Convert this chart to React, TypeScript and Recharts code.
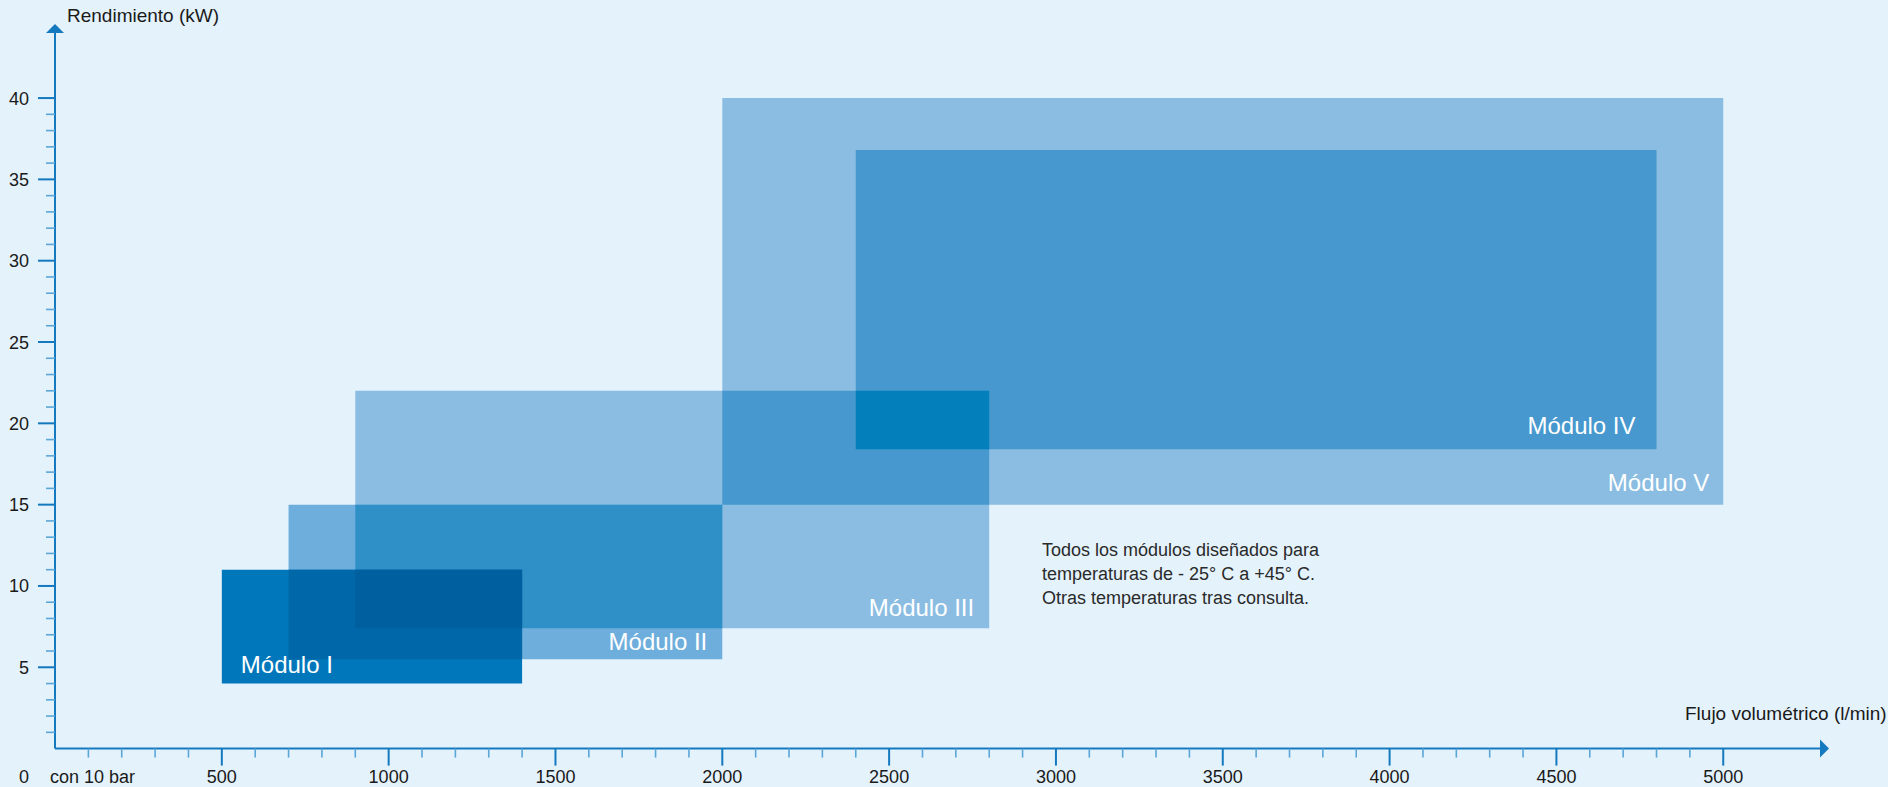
import React from 'react';
import { ComposedChart, XAxis, YAxis, ReferenceArea, ReferenceDot } from 'recharts';

// ---------- data ----------
const moduleNames = ['Módulo I', 'Módulo II', 'Módulo III', 'Módulo IV', 'Módulo V'];
const flowMin = [500, 700, 900, 2400, 2000];
const flowMax = [1400, 2000, 2800, 4800, 5000];
const powerMin = [4, 5.5, 7.4, 18.4, 15];
const powerMax = [11, 15, 22, 36.8, 40];

const xMajorTicks = [500, 1000, 1500, 2000, 2500, 3000, 3500, 4000, 4500, 5000];
const yMajorTicks = [5, 10, 15, 20, 25, 30, 35, 40];
const xTitle = 'Flujo volumétrico (l/min)';
const yTitle = 'Rendimiento (kW)';
const originLabel = '0';
const pressureNote = 'con 10 bar';
const noteLines = [
  'Todos los módulos diseñados para',
  'temperaturas de - 25° C a +45° C.',
  'Otras temperaturas tras consulta.',
];
const noteAnchor = { x: 2958, y: 11.85 };

const xDomain: [number, number] = [0, 5290];
const yDomain: [number, number] = [0, 44];

// minor ticks every 100 l/min and every 1 kW
const xTicks = [0, ...Array.from({ length: 50 }, (_, i) => (i + 1) * 100)];
const yTicks = Array.from({ length: 40 }, (_, i) => i + 1);

// ---------- styles ----------
const BG = '#e4f2fc';
const AXIS = '#1479be';
const MINOR = '#5aa6d8';
const TEXT = '#1a1a1a';
const FONT = '"Liberation Sans", Arial, Helvetica, sans-serif';
const TICK_FS = 18;

// overlap layers (members refer to module indices), painted in order
const layers = [
  { members: [4], fill: '#8bbde2' },
  { members: [2], fill: '#8bbde2' },
  { members: [2, 4], fill: '#4698ce' },
  { members: [3], fill: '#4698ce' },
  { members: [2, 3], fill: '#0380bb' },
  { members: [1], fill: '#6eaedc' },
  { members: [1, 2], fill: '#2f90c8' },
  { members: [0], fill: '#0077bb' },
  { members: [0, 1], fill: '#0068a8' },
  { members: [0, 1, 2], fill: '#005f9f' },
];

const labelPlacement = [
  { anchor: 'start', dx: 19, dy: 10.5 },
  { anchor: 'end', dx: 15, dy: 9 },
  { anchor: 'end', dx: 15, dy: 12 },
  { anchor: 'end', dx: 21, dy: 15 },
  { anchor: 'end', dx: 14, dy: 14 },
];

function intersect(members: number[]) {
  return {
    x1: Math.max(...members.map((m) => flowMin[m])),
    x2: Math.min(...members.map((m) => flowMax[m])),
    y1: Math.max(...members.map((m) => powerMin[m])),
    y2: Math.min(...members.map((m) => powerMax[m])),
  };
}

const XTick = (props: any) => {
  const { x, y, payload } = props;
  const v = payload.value;
  if (v === 0) {
    return (
      <g>
        <text x={x - 31} y={y + 34} textAnchor="middle" fill={TEXT} fontSize={TICK_FS} fontFamily={FONT}>
          {originLabel}
        </text>
        <text x={x - 5} y={y + 34} textAnchor="start" fill={TEXT} fontSize={TICK_FS} fontFamily={FONT}>
          {pressureNote}
        </text>
      </g>
    );
  }
  const major = xMajorTicks.includes(v);
  return (
    <g>
      <line x1={x} x2={x} y1={y} y2={y + (major ? 17 : 9)} stroke={major ? AXIS : MINOR} strokeWidth={major ? 2 : 1.6} />
      {major && (
        <text x={x} y={y + 34} textAnchor="middle" fill={TEXT} fontSize={TICK_FS} fontFamily={FONT}>
          {v}
        </text>
      )}
    </g>
  );
};

const YTick = (props: any) => {
  const { x, y, payload } = props;
  const v = payload.value;
  const major = yMajorTicks.includes(v);
  return (
    <g>
      <line x1={x - (major ? 17 : 9)} x2={x} y1={y} y2={y} stroke={major ? AXIS : MINOR} strokeWidth={major ? 2 : 1.6} />
      {major && (
        <text x={x - 26} y={y + 6.5} textAnchor="end" fill={TEXT} fontSize={TICK_FS} fontFamily={FONT}>
          {v}
        </text>
      )}
    </g>
  );
};

export default function App() {
  return (
    <div style={{ position: 'absolute', left: 0, top: 0, width: 1888, height: 787, background: BG, overflow: 'hidden' }}>
      <ComposedChart width={1888} height={787} margin={{ top: 33, right: 68, bottom: 0, left: 0 }}>
        <XAxis
          type="number"
          dataKey="x"
          domain={xDomain}
          allowDataOverflow
          ticks={xTicks}
          interval={0}
          tick={XTick}
          tickLine={false}
          tickSize={0}
          tickMargin={0}
          height={38.4}
          axisLine={{ stroke: AXIS, strokeWidth: 2 }}
        />
        <YAxis
          type="number"
          dataKey="y"
          domain={yDomain}
          allowDataOverflow
          ticks={yTicks}
          interval={0}
          tick={YTick}
          tickLine={false}
          tickSize={0}
          tickMargin={0}
          width={55}
          axisLine={{ stroke: AXIS, strokeWidth: 2 }}
        />
        {layers.map((layer, i) => {
          const r = intersect(layer.members);
          return (
            <ReferenceArea
              key={'l' + i}
              x1={r.x1}
              x2={r.x2}
              y1={r.y1}
              y2={r.y2}
              fill={layer.fill}
              fillOpacity={1}
              stroke="none"
              ifOverflow="visible"
            />
          );
        })}
        {moduleNames.map((name, i) => {
          const p = labelPlacement[i];
          return (
            <ReferenceArea
              key={'m' + i}
              x1={flowMin[i]}
              x2={flowMax[i]}
              y1={powerMin[i]}
              y2={powerMax[i]}
              fill="none"
              fillOpacity={0}
              stroke="none"
              ifOverflow="visible"
              label={{
                content: (lp: any) => {
                  const vb = lp.viewBox || {};
                  const tx = p.anchor === 'start' ? vb.x + p.dx : vb.x + vb.width - p.dx;
                  const ty = vb.y + vb.height - p.dy;
                  return (
                    <text x={tx} y={ty} textAnchor={p.anchor} fill="#ffffff" fontSize={24} fontFamily={FONT}>
                      {name}
                    </text>
                  );
                },
              }}
            />
          );
        })}
        <ReferenceDot
          x={xDomain[1]}
          y={0}
          r={0}
          ifOverflow="visible"
          shape={(dp: any) => (
            <g>
              <polygon points={`${dp.cx},${dp.cy - 9} ${dp.cx + 9},${dp.cy} ${dp.cx},${dp.cy + 9}`} fill={AXIS} />
              <text x={dp.cx - 135} y={dp.cy - 28.6} textAnchor="start" fill={TEXT} fontSize={19} fontFamily={FONT}>
                {xTitle}
              </text>
            </g>
          )}
        />
        <ReferenceDot
          x={0}
          y={yDomain[1]}
          r={0}
          ifOverflow="visible"
          shape={(dp: any) => (
            <g>
              <polygon points={`${dp.cx - 9},${dp.cy} ${dp.cx},${dp.cy - 9} ${dp.cx + 9},${dp.cy}`} fill={AXIS} />
              <text x={dp.cx + 12} y={dp.cy - 11} textAnchor="start" fill={TEXT} fontSize={19} fontFamily={FONT}>
                {yTitle}
              </text>
            </g>
          )}
        />
        <ReferenceDot
          x={noteAnchor.x}
          y={noteAnchor.y}
          r={0}
          ifOverflow="visible"
          shape={(dp: any) => (
            <text x={dp.cx} y={dp.cy} fill="#2a2a2a" fontSize={18} fontFamily={FONT}>
              {noteLines.map((line, i) => (
                <tspan key={i} x={dp.cx} dy={i === 0 ? 0 : 24}>
                  {line}
                </tspan>
              ))}
            </text>
          )}
        />
      </ComposedChart>
    </div>
  );
}
